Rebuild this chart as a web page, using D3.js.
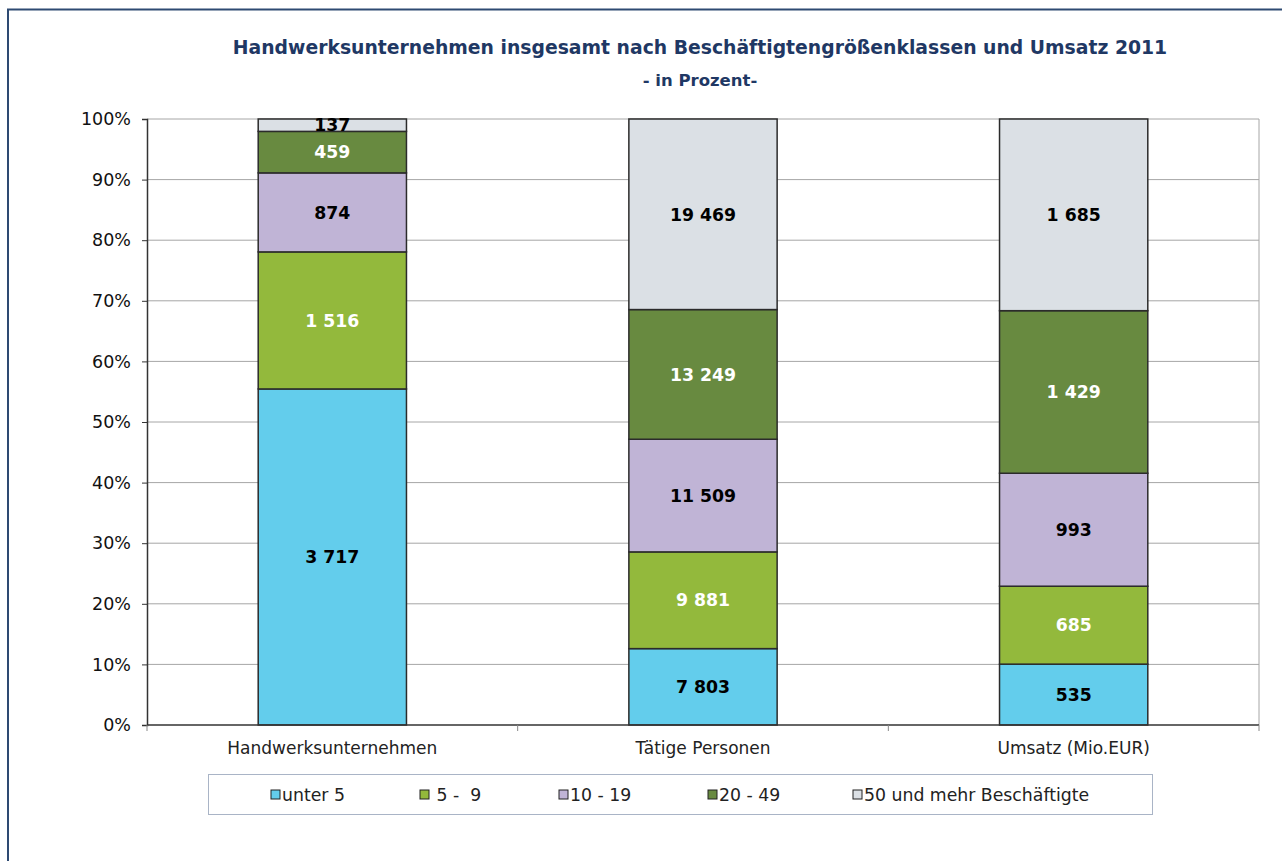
<!DOCTYPE html>
<html>
<head>
<meta charset="utf-8">
<script src="https://cdn.jsdelivr.net/npm/d3@7"></script>
<style>
  body { margin: 0; background: #fff; }
  svg { display: block; font-family: Verdana, "DejaVu Sans", sans-serif; }
</style>
</head>
<body>
<svg id="chart" width="1282" height="861"></svg>
<script>
// data (absolute numbers, shown as labels; bars are share of total)
const categories = ['Handwerksunternehmen', 'Tätige Personen', 'Umsatz (Mio.EUR)'];
const classes = ['unter 5', ' 5 -  9', '10 - 19', '20 - 49', '50 und mehr Beschäftigte'];
const unter5 = [3717, 7803, 535];
const von5bis9 = [1516, 9881, 685];
const von10bis19 = [874, 11509, 993];
const von20bis49 = [459, 13249, 1429];
const ab50 = [137, 19469, 1685];
const yTicks = [0, 0.1, 0.2, 0.3, 0.4, 0.5, 0.6, 0.7, 0.8, 0.9, 1];

const colors = ['#63cdec', '#93b93c', '#c0b4d6', '#688a40', '#dbe0e5'];
const labelColors = ['#000', '#fff', '#000', '#fff', '#000'];

const series = [unter5, von5bis9, von10bis19, von20bis49, ab50];

const svg = d3.select('#chart');

// outer frame
svg.append('rect')
  .attr('x', 8).attr('y', 9.5)
  .attr('width', 1300).attr('height', 900)
  .attr('fill', 'none')
  .attr('stroke', '#2e4a72')
  .attr('stroke-width', 2);

const margin = {top: 119, right: 23, bottom: 136, left: 147},
    width = 1282 - margin.left - margin.right,
    height = 861 - margin.top - margin.bottom;

const g = svg.append('g')
  .attr('transform', 'translate(' + margin.left + ',' + margin.top + ')');

// title
svg.append('text')
  .attr('x', 700).attr('y', 54)
  .attr('text-anchor', 'middle')
  .attr('fill', '#1f3864')
  .style('font-weight', 'bold')
  .style('font-size', '18.8px')
  .text('Handwerksunternehmen insgesamt nach Beschäftigtengrößenklassen und Umsatz 2011');
svg.append('text')
  .attr('x', 700).attr('y', 86)
  .attr('text-anchor', 'middle')
  .attr('fill', '#1f3864')
  .style('font-weight', 'bold')
  .style('font-size', '16.5px')
  .text('- in Prozent-');

const x = d3.scaleBand()
  .domain(categories)
  .range([0, width])
  .paddingInner(0.6)
  .paddingOuter(0.3);

const xOuter = d3.scaleBand()
  .domain(categories)
  .range([0, width]);

const y = d3.scaleLinear()
  .domain([0, 1])
  .range([height, 0]);

// gridlines
g.append('g')
  .selectAll('line')
  .data(yTicks.slice(1))
  .enter().append('line')
  .attr('x1', 0).attr('x2', width)
  .attr('y1', d => y(d)).attr('y2', d => y(d))
  .attr('stroke', '#a6a6a6')
  .attr('stroke-width', 1);

// right border of plot area
g.append('line')
  .attr('x1', width).attr('x2', width)
  .attr('y1', 0).attr('y2', height)
  .attr('stroke', '#a6a6a6');

// stack
const rows = categories.map((c, i) => {
  const row = {cat: c};
  let total = 0;
  series.forEach(s => total += s[i]);
  classes.forEach((k, j) => { row[k] = series[j][i] / total; row['abs' + j] = series[j][i]; });
  return row;
});

const stacked = d3.stack().keys(classes)(rows);

const fmt = d3.formatLocale({decimal: ',', thousands: ' ', grouping: [3], currency: ['', ' €']}).format(',d');

const layers = g.selectAll('.layer')
  .data(stacked)
  .enter().append('g')
  .attr('class', 'layer');

layers.selectAll('rect')
  .data(d => d)
  .enter().append('rect')
  .attr('x', d => x(d.data.cat))
  .attr('width', x.bandwidth())
  .attr('y', d => y(d[1]))
  .attr('height', d => y(d[0]) - y(d[1]))
  .attr('fill', function() { return colors[d3.select(this.parentNode).datum().index]; })
  .attr('stroke', '#2b2b2b')
  .attr('stroke-width', 1.5);

layers.selectAll('text')
  .data(d => d.map(v => ({v: v, idx: d.index})))
  .enter().append('text')
  .attr('x', d => x(d.v.data.cat) + x.bandwidth() / 2)
  .attr('y', d => (y(d.v[0]) + y(d.v[1])) / 2)
  .attr('dy', '0.36em')
  .attr('text-anchor', 'middle')
  .attr('fill', d => labelColors[d.idx])
  .style('font-weight', 'bold')
  .style('font-size', '17.3px')
  .text(d => fmt(d.v.data['abs' + d.idx]));

// y axis
const yAxis = g.append('g')
  .call(d3.axisLeft(y).tickValues(yTicks).tickFormat(d3.format('.0%')).tickSize(5).tickPadding(11));
yAxis.select('.domain').attr('stroke', '#333').attr('stroke-width', 1.5);
yAxis.selectAll('.tick line').attr('stroke', '#333');
yAxis.selectAll('text').style('font-size', '17.5px').attr('fill', '#111').style('font-family', 'Verdana, "DejaVu Sans", sans-serif');

// x axis
const xAxisG = g.append('g')
  .attr('transform', 'translate(0,' + height + ')');
xAxisG.append('line')
  .attr('x1', 0).attr('x2', width)
  .attr('stroke', '#333').attr('stroke-width', 1.5);
xAxisG.selectAll('.sep')
  .data([0, 1, 2, 3])
  .enter().append('line')
  .attr('x1', i => i === 3 ? width : xOuter(categories[i]))
  .attr('x2', i => i === 3 ? width : xOuter(categories[i]))
  .attr('y1', 0).attr('y2', 6)
  .attr('stroke', '#888');
xAxisG.selectAll('.lbl')
  .data(categories)
  .enter().append('text')
  .attr('x', d => xOuter(d) + xOuter.bandwidth() / 2)
  .attr('y', 29)
  .attr('text-anchor', 'middle')
  .attr('fill', '#222')
  .style('font-size', '17px')
  .text(d => d);

// legend
const legend = svg.append('g');
legend.append('rect')
  .attr('x', 208.5).attr('y', 774.5)
  .attr('width', 944).attr('height', 40)
  .attr('fill', '#fff')
  .attr('stroke', '#a9b4c6');

const legendX = [271, 420, 559, 708, 853];
const items = legend.selectAll('.item')
  .data(classes)
  .enter().append('g')
  .attr('transform', (d, i) => 'translate(' + legendX[i] + ',795)');
items.append('rect')
  .attr('x', 0).attr('y', -5)
  .attr('width', 9).attr('height', 9)
  .attr('fill', (d, i) => colors[i])
  .attr('stroke', '#222').attr('stroke-width', 1);
items.append('text')
  .attr('x', 11).attr('y', 0)
  .attr('dy', '0.36em')
  .attr('fill', '#222')
  .style('font-size', '17.3px')
  .style('white-space', 'pre')
  .text(d => d);
</script>
</body>
</html>
